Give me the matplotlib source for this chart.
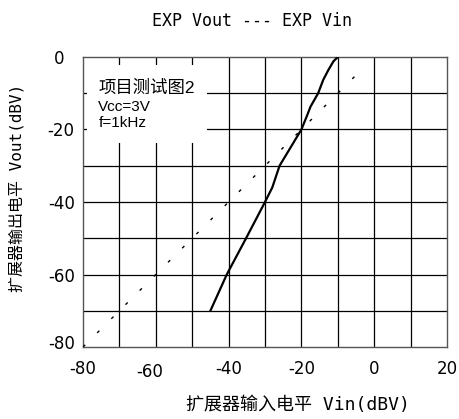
import matplotlib
matplotlib.use("Agg")
import matplotlib.pyplot as plt
import matplotlib.transforms as mtransforms
from matplotlib.patches import Rectangle

plt.rcParams["lines.scale_dashes"] = False
plt.rcParams["axes.unicode_minus"] = False

# expander transfer curve, Vin -> Vout (dBV)
vin = [-45, -40.5, -35.2, -30, -28, -26, -23, -20, -18.5, -17.5, -15.4, -14, -12.6, -11.2, -10]
vout = [-70, -60, -50, -40, -36, -30, -25, -20, -16.3, -13.7, -10, -6.3, -3.6, -1.2, 0]

# unity reference (Vout = Vin)
ref_x = [-80, -3]
ref_y = [-80, -3]

xticks = [-80, -60, -40, -20, 0, 20]
yticks = [-80, -60, -40, -20, 0]

MONO_CJK = ["DejaVu Sans Mono", "Noto Sans CJK SC"]
SANS_CJK = ["Liberation Sans", "Noto Sans CJK SC"]

fig = plt.figure(figsize=(4.6, 4.19), dpi=100)
ax = fig.add_axes([83 / 460, 1 - 347 / 419, 364 / 460, 290 / 419])

ax.set_xlim(-80, 20)
ax.set_ylim(-80, 0)

# 10 dB grid
for gx in range(-70, 20, 10):
    ax.axvline(gx, color="black", lw=0.9, zorder=1)
for gy in range(-70, 0, 10):
    ax.axhline(gy, color="black", lw=0.9, zorder=1)

ax.plot(ref_x, ref_y, color="black", lw=1.0, dashes=(2.2, 12.2), zorder=3)
ax.plot(vin, vout, color="black", lw=1.6, zorder=4)

# note box over the top-left cells
ax.add_patch(Rectangle((-79, -23.7), 33, 21.5, facecolor="white",
                       edgecolor="none", zorder=2))
ax.text(-75.8, -8.4, "项目测试图2", family=SANS_CJK, fontsize=12.5,
        va="center", ha="left", zorder=5)
ax.text(-75.8, -13.7, "Vcc=3V", family=SANS_CJK, fontsize=11,
        va="center", ha="left", zorder=5)
ax.text(-75.8, -18.2, "f=1kHz", family=SANS_CJK, fontsize=11,
        va="center", ha="left", zorder=5)

for s in ax.spines.values():
    s.set_color("#555555")
    s.set_linewidth(1.0)

ax.set_xticks(xticks)
ax.set_yticks(yticks)
ax.tick_params(length=0, labelsize=12)
ax.tick_params(axis="x", pad=9)
ax.tick_params(axis="y", pad=6)
for lab in ax.get_xticklabels() + ax.get_yticklabels():
    lab.set_family("DejaVu Sans")

# small hand offsets on a few tick labels
def shift(label, dx, dy):
    off = mtransforms.ScaledTranslation(dx / 100, dy / 100, fig.dpi_scale_trans)
    label.set_transform(label.get_transform() + off)

shift(ax.get_xticklabels()[1], -6, -3)
shift(ax.get_yticklabels()[-1], -10, 0)
shift(ax.get_yticklabels()[0], 0, 5)

fig.text(252.5 / 460, 1 - 20.7 / 419, "EXP Vout --- EXP Vin", family=MONO_CJK,
         fontsize=12, ha="center", va="center")
fig.text(297.5 / 460, 1 - 405 / 419, "扩展器输入电平 Vin(dBV)", family=MONO_CJK,
         fontsize=13, ha="center", va="center")
fig.text(17 / 460, 1 - 187.5 / 419, "扩展器输出电平 Vout(dBV)", family=MONO_CJK,
         fontsize=11.5, ha="center", va="center", rotation=90)

fig.savefig("out.png", dpi=100)
